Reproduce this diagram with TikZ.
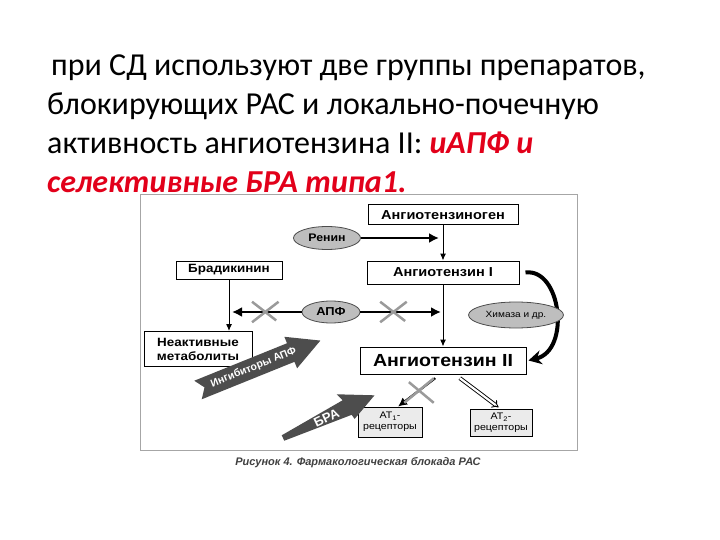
\documentclass[tikz,border=0pt]{standalone}
\usepackage{fontspec}
\newfontfamily\titlefont{Carlito}
\newfontfamily\diafont[FakeStretch=1.12]{Liberation Sans}
\newfontfamily\capfont{Liberation Sans}
\usetikzlibrary{positioning,shapes.geometric,shapes.misc,arrows.meta}

\definecolor{hlred}{HTML}{E2001A}
\definecolor{ovalgray}{HTML}{BEBEBE}
\definecolor{bandgray}{HTML}{4D4D4D}
\definecolor{crossgray}{HTML}{9A9A9A}

\tikzset{
  stage/.style={draw, line width=1pt, fill=white, inner sep=2pt,
    font=\diafont\bfseries\fontsize{13}{15}\selectfont},
  enzyme/.style={ellipse, draw=black!70, fill=ovalgray, line width=0.8pt,
    inner sep=0pt, font=\diafont\bfseries\fontsize{11}{13}\selectfont},
  receptor/.style={draw, line width=0.8pt, fill=black!8, align=center,
    inner sep=1pt, font=\diafont\fontsize{9.5}{11}\selectfont},
  thinflow/.style={line width=1pt, -{Latex[length=7pt,width=6pt]}},
  boldflow/.style={line width=2.6pt, -{Latex[length=10pt,width=10pt]}},
  xmark/.style={cross out, draw=crossgray, line width=2.5pt,
    minimum width=24pt, minimum height=18pt, inner sep=0pt},
  band/.style={fill=bandgray},
  bandtext/.style={text=white, inner sep=0pt,
    font=\capfont\bfseries\fontsize{10.5}{12}\selectfont}
}

\begin{document}
\begin{tikzpicture}[x=1pt,y=-1pt]
    \useasboundingbox (0,0) rectangle (720,540);

    % heading
    \node (title) [anchor=north west, align=left, inner sep=0pt,
      font=\titlefont\fontsize{32}{39}\selectfont] at (47,55)
      {\hspace*{4pt}при СД используют две группы препаратов,\\
       блокирующих РАС и локально-почечную\\
       активность ангиотензина II: \textcolor{hlred}{\bfseries\itshape иАПФ и}\\
       \textcolor{hlred}{\bfseries\itshape селективные БРА типа1.}};

    % figure frame
    \draw[black!35, line width=1pt] (140,195) rectangle (577,450);

    % cascade
    \node (agen) [stage, minimum width=150pt, minimum height=20pt] at (443,215) {Ангиотензиноген};
    \node (ang1) [stage, minimum width=152pt, minimum height=23pt, below = 35pt of agen] {Ангиотензин I};
    \node (ang2) [stage, minimum width=166pt, minimum height=27pt, below = 62pt of ang1,
      font=\diafont\bfseries\fontsize{17.5}{20}\selectfont] {Ангиотензин II};
    \node (brad) [stage, minimum width=106pt, minimum height=18pt,
      font=\diafont\bfseries\fontsize{12}{14}\selectfont] at (229,270) {Брадикинин};
    \node (meta) [stage, minimum width=108pt, minimum height=35pt, align=center,
      font=\diafont\bfseries\fontsize{12}{14}\selectfont] at (198,349) {Неактивные\\метаболиты};
    \node (ren) [enzyme, minimum width=67pt, minimum height=23pt] at (327,238) {Ренин};
    \node (apf) [enzyme, minimum width=58pt, minimum height=22pt,
      font=\diafont\bfseries\fontsize{11.5}{13}\selectfont] at (331,312) {АПФ};
    \node (at1) [receptor, minimum width=64pt, minimum height=30pt] at (390,422) {АТ\textsubscript{1}-\\рецепторы};
    \node (at2) [receptor, minimum width=62pt, minimum height=27pt] at (501,423) {АТ\textsubscript{2}-\\рецепторы};

    \draw[thinflow] (agen) -- (ang1);
    \draw[thinflow] (ang1) -- (ang2);
    \draw[thinflow] (brad.south) -- (brad.south |- meta.north);
    \draw[boldflow, shorten >=4pt] (ren) -- (ren -| agen.south);
    \draw[boldflow, shorten >=3pt] (apf) -- node[xmark] (cutL) {} (apf -| brad.south);
    \draw[boldflow, shorten >=2pt] (apf) -- node[xmark, pos=0.4] (cutR) {} (apf -| ang1.south);
    \draw[line width=2.2pt, -{Latex[length=9pt,width=9pt]}, shorten <=6pt]
      ([xshift=-3pt]ang2.south) -- node[xmark, minimum width=27pt, minimum height=22pt] (cutA) {} ([xshift=8pt]at1.north);
    \draw[line width=0.9pt, double, double distance=2.2pt, -{Implies}, shorten <=6pt, shorten >=3pt]
      ([xshift=12pt]ang2.south) -- (at2.north);

    % chymase bypass
    \draw[line width=4pt, -{Stealth[length=13pt,width=14pt]}]
      ([xshift=6pt]ang1.east) .. controls (561,268) and (571,350) .. ([xshift=2pt]ang2.east);
    \node (chym) [enzyme, minimum width=95pt, minimum height=26pt,
      font=\diafont\fontsize{9}{11}\selectfont] at (516,315) {Химаза и др.};

    % blockers
    \begin{scope}[shift={(198,390)}, rotate=22]
      \fill[band] (0pt,10pt) -- (100pt,10pt) -- (100pt,17pt) -- (132pt,0pt)
        -- (100pt,-17pt) -- (100pt,-10pt) -- (0pt,-10pt) -- (7pt,0pt) -- cycle;
      \node (acei) [bandtext, rotate=22] at (60pt,0pt) {Ингибиторы АПФ};
    \end{scope}
    \begin{scope}[shift={(283,438)}, rotate=25]
      \fill[band] (0pt,3pt) -- (70pt,9pt) -- (67pt,17pt) -- (101pt,0pt)
        -- (73pt,-13pt) -- (72pt,-8pt) -- (0pt,-3pt) -- cycle;
      \node (arb) [bandtext, rotate=25, font=\capfont\bfseries\fontsize{13}{15}\selectfont] at (48pt,0pt) {БРА};
    \end{scope}

    \node (caption) [text=black!75, font=\capfont\bfseries\itshape\fontsize{11}{13}\selectfont] at (358,463)
      {Рисунок 4. Фармакологическая блокада РАС};
\end{tikzpicture}
\end{document}
